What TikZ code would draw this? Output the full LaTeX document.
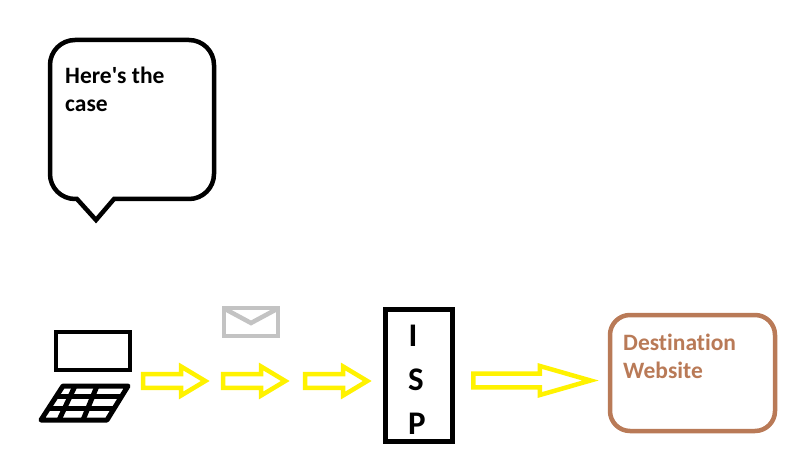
\documentclass[tikz,border=0pt]{standalone}
\usepackage{fontspec}
\setmainfont[Ligatures=NoCommon]{Carlito}
\usetikzlibrary{shapes.arrows}
\definecolor{sitebrown}{HTML}{B97A57}
\definecolor{mailgray}{HTML}{C3C3C3}
\definecolor{arrowyellow}{HTML}{FFF200}
\tikzset{
  blockarrow/.style={single arrow, draw=arrowyellow, line width=4.5pt, inner sep=0pt,
    minimum width=29pt, single arrow head extend=2.5pt, single arrow tip angle=62},
  labeltext/.style={anchor=north west, inner sep=0pt, align=left,
    font=\fontsize{23.5}{28}\selectfont\bfseries},
  ispletter/.style={inner sep=0pt, font=\fontsize{33}{33}\selectfont\bfseries}
}
\begin{document}
\begin{tikzpicture}[x=1pt,y=-1pt]
\useasboundingbox (0,0) rectangle (800,449);
% draw the speech bubble
\draw[line width=4.5pt, line join=miter]
  (96,220) -- (77,199) -- (75,199) arc (90:180:25) -- (50,65) arc (180:270:25)
  -- (189,40) arc (270:360:25) -- (214,174) arc (0:90:25) -- (114,199) -- cycle;
\node[labeltext] (casetext) at (65,67) {Here\textquotesingle s the\\case};

% draw the laptop
\draw[line width=4.5pt] (56,332) rectangle (130,370);
\draw[line width=5pt, line join=round] (63,386) -- (128,386) -- (107,420) -- (41,420) -- cycle;
% draw keyboard lines
\foreach \y/\a/\b in {396/57/122,408/49/114}
\draw[line width=5pt] (\a,\y) -- (\b,\y);
\foreach \a/\b in {75/59,97/83}
\draw[line width=5pt] (\a,386) -- (\b,420);

% draw the envelope
\draw[mailgray, line width=4.5pt] (224,308) rectangle (278,336);
\draw[mailgray, line width=4.5pt] (225,309) -- (251,323) -- (277,309);

% draw the small arrows
\foreach \x/\arrowname in {168.5/arrowa,248.5/arrowb,330.5/arrowc}
\node[blockarrow, minimum height=62pt] (\arrowname) at (\x,381) {};

% draw the isp box
\node[draw, line width=5pt, minimum width=67pt, minimum height=132pt, inner sep=0pt] (ispbox) at (418.5,375) {};
\node[ispletter] (ispi) at (413,336) {I};
\node[ispletter] (isps) at (416,380) {S};
\node[ispletter] (ispp) at (417,424) {P};

% draw the big arrow
\node[blockarrow, minimum height=117pt, single arrow tip angle=32] (arrowd) at (520,380.5) {};

% draw the destination box
\node[draw=sitebrown, line width=4.5pt, rounded corners=20pt, minimum width=165pt, minimum height=116pt, inner sep=0pt] (sitebox) at (692.5,373) {};
\node[labeltext, text=sitebrown] (sitetext) at (623,334) {Destination\\Website};
\end{tikzpicture}
\end{document}
